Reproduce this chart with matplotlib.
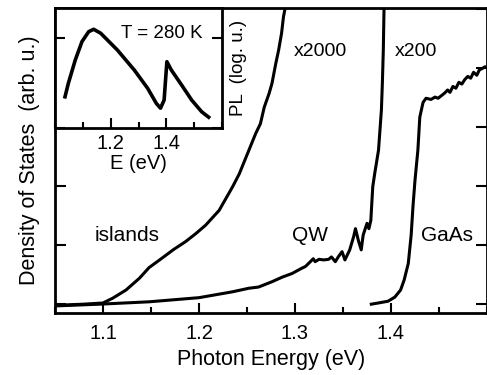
import matplotlib
matplotlib.use('Agg')
import matplotlib.pyplot as plt
from matplotlib.ticker import MultipleLocator, NullFormatter, LogLocator, FixedLocator

plt.rcParams['font.family'] = ['Liberation Sans', 'DejaVu Sans']

# islands absorption curve
isl_E = [1.05, 1.08, 1.100, 1.110, 1.124, 1.138, 1.148, 1.159, 1.173, 1.186, 1.197,
         1.207, 1.221, 1.235, 1.242, 1.252, 1.259, 1.264, 1.268, 1.273, 1.276,
         1.280, 1.283, 1.286, 1.288, 1.290, 1.292]
isl_v = [-0.02, 0.0, 0.02, 0.10, 0.24, 0.44, 0.62, 0.75, 0.92, 1.06, 1.20,
         1.34, 1.59, 1.99, 2.21, 2.61, 2.89, 3.06, 3.34, 3.57, 3.74,
         4.08, 4.31, 4.59, 4.87, 5.04, 5.3]

# quantum well curve
qw_E = [1.05, 1.097, 1.148, 1.200, 1.235, 1.252, 1.262, 1.276, 1.287, 1.297,
        1.306, 1.311, 1.316, 1.319, 1.321, 1.325, 1.330, 1.335, 1.338, 1.342,
        1.345, 1.349, 1.352, 1.357, 1.361, 1.363, 1.366, 1.369, 1.371, 1.375,
        1.377, 1.379, 1.380, 1.381, 1.382, 1.383, 1.387, 1.390, 1.391, 1.392,
        1.3927, 1.393]
qw_v = [-0.03, 0.0, 0.04, 0.11, 0.21, 0.27, 0.29, 0.38, 0.46, 0.52,
        0.60, 0.64, 0.72, 0.77, 0.72, 0.76, 0.75, 0.76, 0.80, 0.72,
        0.80, 0.89, 0.75, 0.92, 1.14, 1.28, 1.08, 0.92, 1.17, 1.37,
        1.28, 1.42, 1.71, 1.99, 2.10, 2.21, 2.61, 3.29, 3.74, 4.31,
        4.98, 5.3]

# GaAs curve
gaas_E = [1.3795, 1.3868, 1.397, 1.404, 1.410, 1.4137, 1.418, 1.421, 1.423, 1.425,
          1.428, 1.430, 1.4334, 1.4365, 1.4417, 1.4459, 1.449, 1.453, 1.456, 1.459,
          1.4614, 1.4645, 1.4676, 1.4707, 1.4738, 1.477, 1.480, 1.483, 1.486,
          1.4894, 1.492, 1.4956, 1.4977]
gaas_v = [0.0, 0.02, 0.05, 0.12, 0.24, 0.41, 0.69, 1.17, 1.68, 2.10,
          2.61, 3.17, 3.42, 3.49, 3.47, 3.51, 3.49, 3.54, 3.58, 3.63,
          3.59, 3.69, 3.66, 3.76, 3.73, 3.81, 3.86, 3.83, 3.93,
          3.88, 3.97, 4.0, 4.02]

# inset PL spectrum (log scale)
pl_E = [1.036, 1.048, 1.073, 1.097, 1.121, 1.139, 1.164, 1.224, 1.285, 1.333,
        1.364, 1.379, 1.392, 1.398, 1.402, 1.418, 1.455, 1.491, 1.527, 1.552]
pl_log = [1.04, 1.49, 2.27, 2.88, 3.21, 3.29, 3.16, 2.6, 1.93, 1.32,
          0.82, 0.66, 0.93, 1.71, 2.21, 1.93, 1.43, 0.93, 0.54, 0.36]
pl_v = [10 ** p for p in pl_log]

main_ticks = [1.1, 1.2, 1.3, 1.4]
inset_ticks = [1.2, 1.4]

fig = plt.figure(figsize=(4.87, 3.75), dpi=100)
ax = fig.add_axes([0.1129, 0.1653, 0.8871, 0.8134])
lw = 2.2
ax.plot(isl_E, isl_v, c='k', lw=lw)
ax.plot(qw_E, qw_v, c='k', lw=lw)
ax.plot(gaas_E, gaas_v, c='k', lw=lw)
ax.set_xlim(1.05, 1.5)
ax.set_ylim(-0.15, 5.02)
ax.xaxis.set_major_locator(FixedLocator(main_ticks))
ax.xaxis.set_minor_locator(MultipleLocator(0.05))
ax.yaxis.set_major_locator(MultipleLocator(1))
ax.yaxis.set_major_formatter(NullFormatter())
ax.tick_params(which='both', direction='in', width=1.5, labelsize=14.5, pad=8)
ax.tick_params(axis='y', which='major', length=8, left=True, right=True)
ax.tick_params(axis='x', which='major', length=7)
ax.tick_params(axis='x', which='minor', length=4)
for s in ax.spines.values():
    s.set_linewidth(2)
ax.set_xlabel('Photon Energy (eV)', fontsize=15.5, labelpad=4)
ax.set_ylabel('Density of States  (arb. u.)', fontsize=15.5, labelpad=3)

ax.text(1.1255, 1.17, 'islands', fontsize=15, ha='center', va='center')
ax.text(1.316, 1.17, 'QW', fontsize=15, ha='center', va='center')
ax.text(1.458, 1.17, 'GaAs', fontsize=15, ha='center', va='center')
ax.text(1.326, 4.28, 'x2000', fontsize=14, ha='center', va='center')
ax.text(1.4255, 4.28, 'x200', fontsize=14, ha='center', va='center')

# inset
ins = fig.add_axes([0.1129, 0.6587, 0.343, 0.32])
ins.plot(pl_E, pl_v, c='k', lw=2.6)
ins.set_yscale('log')
ins.set_xlim(1.0, 1.6)
ins.set_ylim(1, 1e4)
ins.xaxis.set_major_locator(FixedLocator(inset_ticks))
ins.xaxis.set_minor_locator(MultipleLocator(0.1))
ins.yaxis.set_major_locator(LogLocator(base=10))
ins.yaxis.set_minor_locator(LogLocator(base=10, subs=range(2, 10)))
ins.yaxis.set_major_formatter(NullFormatter())
ins.yaxis.set_minor_formatter(NullFormatter())
ins.tick_params(which='both', direction='in', width=1.5, labelsize=14.5, pad=4)
ins.tick_params(which='major', length=7, left=True, right=True)
ins.tick_params(which='minor', length=4, left=True, right=True)
for s in ins.spines.values():
    s.set_linewidth(2)
ins.set_xlabel('E (eV)', fontsize=14.5, labelpad=1)
ins.yaxis.set_label_position('right')
ins.set_ylabel('PL  (log. u.)', fontsize=13.5, labelpad=6)
ins.text(0.886, 0.79, 'T = 280 K', transform=ins.transAxes, fontsize=13.5,
         ha='right', va='center')

fig.savefig('out.png', dpi=100)
